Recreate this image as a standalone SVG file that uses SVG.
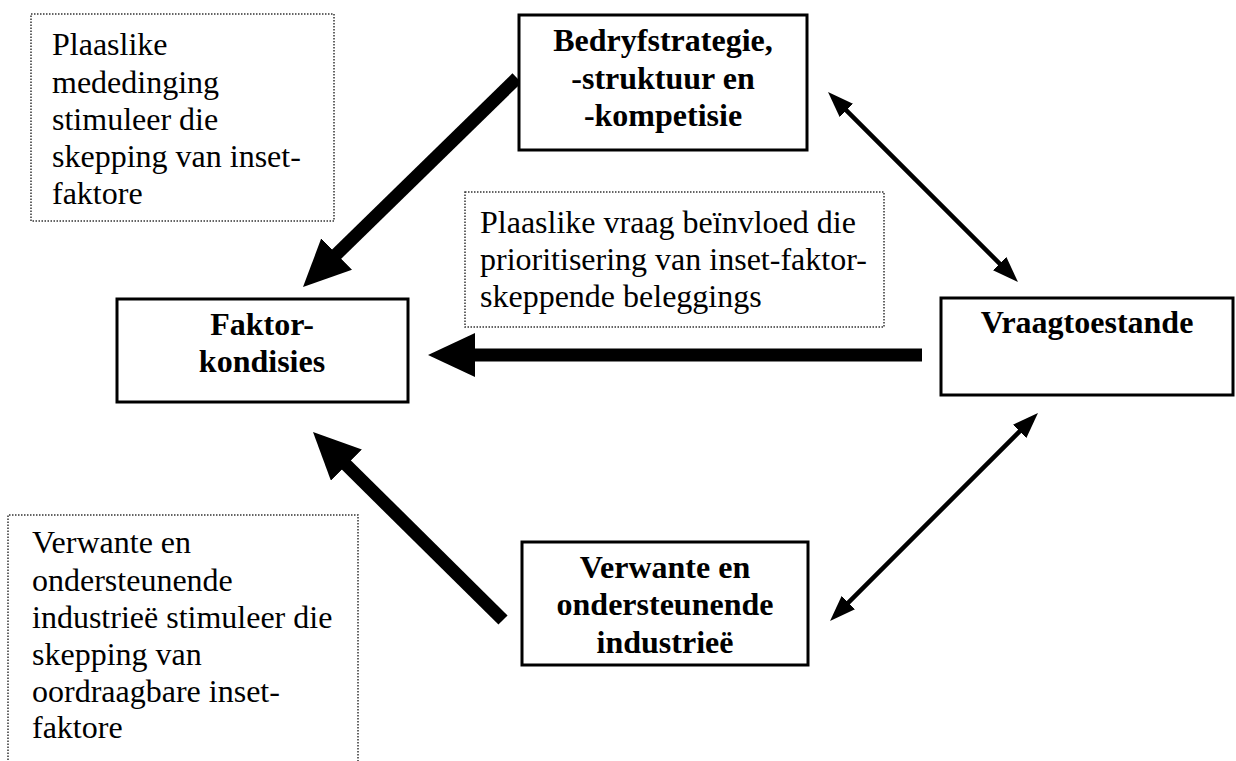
<svg xmlns="http://www.w3.org/2000/svg" width="1236" height="761" viewBox="0 0 1236 761">
  <style>
    .box { fill: #fff; stroke: #000; stroke-width: 3; }
    .note { fill: none; stroke: #333; stroke-width: 1.5; stroke-dasharray: 1.5 1.5; }
    .lbl { font-family: "Liberation Serif", "Times New Roman", serif; font-size: 32px; font-weight: bold; fill: #000; text-anchor: middle; }
    .txt { font-family: "Liberation Serif", "Times New Roman", serif; font-size: 32px; fill: #000; }
    .thick { stroke: #000; stroke-width: 13; fill: none; marker-end: url(#bigHead); }
    .thin { stroke: #000; stroke-width: 4.5; fill: none; marker-start: url(#smallHead); marker-end: url(#smallHead); }
  </style>
  <defs>
    <marker id="bigHead" markerUnits="userSpaceOnUse" markerWidth="48" markerHeight="45" refX="10" refY="22" orient="auto">
      <path d="M0,0 L47,22 L0,44 z" fill="#000"/>
    </marker>
    <marker id="smallHead" markerUnits="userSpaceOnUse" markerWidth="27" markerHeight="20" refX="16" refY="9.5" orient="auto-start-reverse">
      <path d="M0,0 L26,9.5 L0,19 z" fill="#000"/>
    </marker>
  </defs>

  <rect width="1236" height="761" fill="#fff"/>

  <!-- Explanatory notes (dotted frames) -->
  <g id="note-mededinging">
    <rect class="note" x="31" y="14" width="303" height="207"/>
    <text class="txt" x="52" y="55">Plaaslike</text>
    <text class="txt" x="52" y="93">mededinging</text>
    <text class="txt" x="52" y="130">stimuleer die</text>
    <text class="txt" x="52" y="167">skepping van inset-</text>
    <text class="txt" x="52" y="204">faktore</text>
  </g>

  <g id="note-vraag">
    <rect class="note" x="465" y="192" width="419" height="135"/>
    <text class="txt" x="480" y="233">Plaaslike vraag beïnvloed die</text>
    <text class="txt" x="480" y="270">prioritisering van inset-faktor-</text>
    <text class="txt" x="480" y="307">skeppende beleggings</text>
  </g>

  <g id="note-verwante">
    <path class="note" d="M8,775 L8,515 L358,515 L358,775"/>
    <text class="txt" x="32" y="553">Verwante en</text>
    <text class="txt" x="32" y="591">ondersteunende</text>
    <text class="txt" x="32" y="628">industrieë stimuleer die</text>
    <text class="txt" x="32" y="665">skepping van</text>
    <text class="txt" x="32" y="702">oordraagbare inset-</text>
    <text class="txt" x="32" y="738">faktore</text>
  </g>

  <!-- Connectors -->
  <g id="connectors">
    <line class="thick" x1="517" y1="78" x2="329.5" y2="261.1"/>
    <line class="thick" x1="922" y1="355" x2="465" y2="355"/>
    <line class="thick" x1="503" y1="620" x2="339.3" y2="458"/>
    <line class="thin" x1="835.1" y1="99.1" x2="1010.9" y2="274.9"/>
    <line class="thin" x1="1030.9" y1="420.1" x2="837.1" y2="613.9"/>
  </g>

  <!-- Nodes -->
  <g id="node-bedryf">
    <rect class="box" x="519" y="15" width="288" height="135"/>
    <text class="lbl" x="663" y="51">Bedryfstrategie,</text>
    <text class="lbl" x="663" y="89">-struktuur en</text>
    <text class="lbl" x="663" y="126">-kompetisie</text>
  </g>

  <g id="node-faktor">
    <rect class="box" x="117" y="299" width="291" height="103"/>
    <text class="lbl" x="262" y="335">Faktor-</text>
    <text class="lbl" x="262" y="372">kondisies</text>
  </g>

  <g id="node-vraag">
    <rect class="box" x="941" y="298" width="292" height="97"/>
    <text class="lbl" x="1087" y="333">Vraagtoestande</text>
  </g>

  <g id="node-verwante">
    <rect class="box" x="522" y="542" width="286" height="123"/>
    <text class="lbl" x="665" y="578">Verwante en</text>
    <text class="lbl" x="665" y="615">ondersteunende</text>
    <text class="lbl" x="665" y="653">industrieë</text>
  </g>
</svg>
